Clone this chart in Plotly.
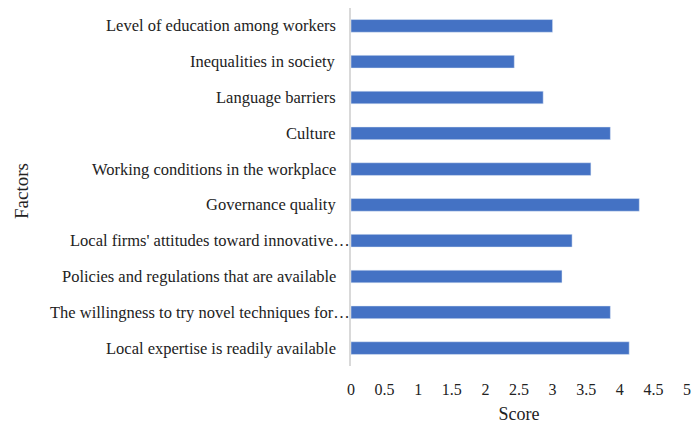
import plotly.graph_objects as go

factors = [
    "Level of education among workers",
    "Inequalities in society",
    "Language barriers",
    "Culture",
    "Working conditions in the workplace",
    "Governance quality",
    "Local firms' attitudes toward innovative…",
    "Policies and regulations that are available",
    "The willingness to try novel techniques for…",
    "Local expertise is readily available",
]
scores = [3.00, 2.43, 2.86, 3.86, 3.57, 4.29, 3.29, 3.14, 3.86, 4.14]
x_ticks = [0, 0.5, 1, 1.5, 2, 2.5, 3, 3.5, 4, 4.5, 5]
x_tick_labels = ["0", "0.5", "1", "1.5", "2", "2.5", "3", "3.5", "4", "4.5", "5"]

font_family = "Liberation Serif, DejaVu Serif, serif"
text_color = "#222222"

fig = go.Figure(
    go.Bar(
        x=scores,
        y=factors,
        orientation="h",
        marker=dict(color="#4472C4"),
        width=0.355,
        hoverinfo="x+y",
    )
)

# category labels as annotations (truncated labels sit closer to the axis, as in the original)
for name in factors:
    truncated = name.endswith("…")
    fig.add_annotation(
        x=0,
        y=name,
        xref="x",
        yref="y",
        text=name,
        showarrow=False,
        xanchor="right",
        yanchor="middle",
        xshift=1 if truncated else -13,
        font=dict(size=16.5, family=font_family, color=text_color),
    )

fig.add_annotation(
    x=0,
    y=0.5,
    xref="paper",
    yref="paper",
    text="Factors",
    textangle=-90,
    showarrow=False,
    xanchor="center",
    yanchor="middle",
    xshift=-330,
    yshift=-4,
    font=dict(size=19, family=font_family, color=text_color),
)

fig.update_layout(
    width=694,
    height=424,
    margin=dict(l=351, r=7, t=8, b=58),
    paper_bgcolor="white",
    plot_bgcolor="white",
    font=dict(family=font_family, size=16, color=text_color),
    showlegend=False,
)

fig.update_xaxes(
    range=[0, 5],
    tickvals=x_ticks,
    ticktext=x_tick_labels,
    showgrid=False,
    zeroline=False,
    showline=False,
    ticks="",
    ticklabelstandoff=12,
    tickfont=dict(size=16, family=font_family, color=text_color),
    title=dict(text="Score", font=dict(size=18, family=font_family, color=text_color), standoff=10),
    automargin=False,
    fixedrange=True,
)

fig.update_yaxes(
    categoryorder="array",
    categoryarray=list(reversed(factors)),
    showgrid=False,
    zeroline=False,
    showline=True,
    linecolor="#d9d9d9",
    linewidth=2,
    ticks="",
    showticklabels=False,
    automargin=False,
    fixedrange=True,
)

fig.write_html(
    "out.html",
    config={"displayModeBar": False},
    post_script="document.body.style.margin='0';document.body.style.padding='0';",
)
